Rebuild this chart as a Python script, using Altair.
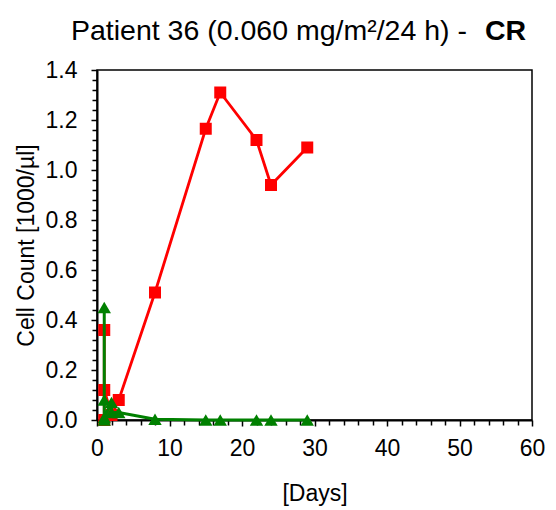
import altair as alt
import pandas as pd

# ---- data ----
red_days = [1, 1, 1, 2, 3, 8, 15, 17, 22, 24, 29]
red_vals = [0.0, 0.36, 0.12, 0.02, 0.08, 0.51, 1.165, 1.31, 1.12, 0.94, 1.09]

green_days = [1, 1, 1, 1, 2, 2, 3, 8, 15, 17, 22, 24, 29]
green_vals = [0.0, 0.45, 0.08, 0.01, 0.07, 0.03, 0.03, 0.003, 0.0, 0.0, 0.0, 0.0, 0.0]

x_ticks = list(range(0, 61, 2))
y_ticks = [round(i * 0.04, 2) for i in range(0, 36)]

title_main = "Patient 36 (0.060 mg/m\u00b2/24 h) -"
title_bold = "CR"

red_df = pd.DataFrame({"day": red_days, "val": red_vals, "idx": range(len(red_days))})
green_df = pd.DataFrame({"day": green_days, "val": green_vals, "idx": range(len(green_days))})

FONT = "Liberation Sans"

x_scale = alt.Scale(domain=[0, 60], nice=False, zero=False)
y_scale = alt.Scale(domain=[0, 1.4], nice=False, zero=False)

x_axis = alt.Axis(
    title="[Days]",
    values=x_ticks,
    labelExpr="datum.value % 10 === 0 ? datum.value : ''",
    tickSize={"condition": {"test": "datum.value % 10 === 0", "value": 6}, "value": 5},
    grid=False,
    labelFlush=False,
    labelOverlap=False,
)
y_axis = alt.Axis(
    title="Cell Count [1000/\u00b5l]",
    values=y_ticks,
    labelExpr="abs(datum.value*5 - round(datum.value*5)) < 0.001 ? format(datum.value, '.1f') : ''",
    tickSize={"condition": {"test": "abs(datum.value*5 - round(datum.value*5)) < 0.001", "value": 6}, "value": 5},
    grid=False,
    labelFlush=False,
    labelOverlap=False,
)

def series(df, color, shape, size, width):
    base = alt.Chart(df).encode(
        x=alt.X("day:Q", scale=x_scale, axis=x_axis),
        y=alt.Y("val:Q", scale=y_scale, axis=y_axis),
        order=alt.Order("idx:Q"),
    )
    line = base.mark_line(color=color, strokeWidth=width)
    pts = base.mark_point(shape=shape, filled=True, color=color, size=size, opacity=1)
    return line + pts

red = series(red_df, "#ff0000", "square", 144, 2.8)
green = series(green_df, "#008000", "triangle-up", 180, 3)

t1 = alt.Chart(pd.DataFrame({"t": [title_main]})).mark_text(
    align="right", baseline="alphabetic", font=FONT, fontSize=28.5, color="black"
).encode(x=alt.value(370), y=alt.value(-30), text="t:N")
t2 = alt.Chart(pd.DataFrame({"t": [title_bold]})).mark_text(
    align="left", baseline="alphabetic", font=FONT, fontSize=28.5, fontWeight="bold", color="black"
).encode(x=alt.value(388), y=alt.value(-30), text="t:N")

chart = (
    alt.layer(red, green, t1, t2)
    .properties(
        width=435,
        height=350,
        autosize=alt.AutoSizeParams(type="none"),
        padding={"left": 89, "top": 62, "right": 16, "bottom": 88},
    )
    .configure_view(stroke="black", strokeWidth=1.5)
    .configure_axis(
        domainColor="black",
        domainWidth=2,
        tickColor="black",
        tickWidth=1.5,
        labelColor="black",
        labelFont=FONT,
        labelFontSize=23,
        titleFont=FONT,
        titleFontSize=23,
        titleFontWeight="normal",
        titleColor="black",
    )
    .configure_axisX(labelPadding=11, titlePadding=22)
    .configure_axisY(labelPadding=14, titlePadding=7)
)

chart.save("out.html", embed_options={"renderer": "svg", "actions": False})
